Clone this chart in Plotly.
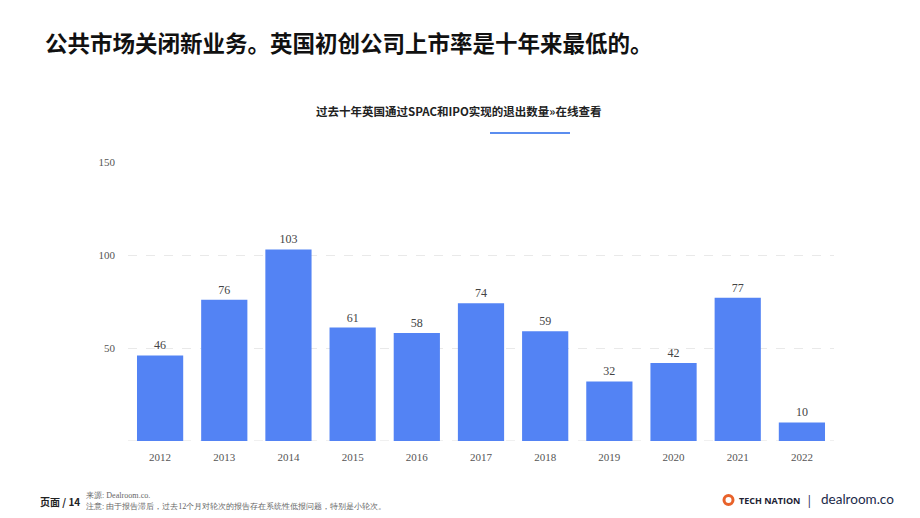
import plotly.graph_objects as go

years = ["2012", "2013", "2014", "2015", "2016", "2017", "2018", "2019", "2020", "2021", "2022"]
exits = [46, 76, 103, 61, 58, 74, 59, 32, 42, 77, 10]
y_ticks = [0, 50, 100, 150]
y_tick_labels = ["", "50", "100", "150"]

title_text = "公共市场关闭新业务。英国初创公司上市率是十年来最低的。"
subtitle_text = "过去十年英国通过SPAC和IPO实现的退出数量»在线查看"
page_text = "页面 / 14"
source_text = "来源: Dealroom.co.<br>注意: 由于报告滞后，过去12个月对轮次的报告存在系统性低报问题，特别是小轮次。"

W, H = 920, 518
L, R, T, B = 128, 86, 162, 77
PW, PH = W - L - R, H - T - B


def px(x):
    return (x - L) / PW


def py(y):
    return (H - y - B) / PH


fig = go.Figure()
fig.add_trace(go.Bar(
    x=years, y=exits,
    marker=dict(color="#5383F4", line=dict(width=0)),
    text=[str(v) for v in exits],
    textposition="outside",
    textfont=dict(family="Liberation Serif", size=12, color="#444444"),
    cliponaxis=False,
    width=0.72,
))

fig.update_layout(
    width=W, height=H,
    margin=dict(l=L, r=R, t=T, b=B),
    paper_bgcolor="white", plot_bgcolor="white",
    showlegend=False,
    font=dict(family="Liberation Serif", color="#555555"),
    xaxis=dict(
        showgrid=False, showline=False, zeroline=False,
        tickfont=dict(family="Liberation Serif", size=11, color="#555555"),
        ticks="", ticklabelstandoff=8,
    ),
    yaxis=dict(
        range=[0, 150],
        tickvals=y_ticks, ticktext=y_tick_labels,
        showgrid=True, gridcolor="#e9e9e9", griddash="dash", gridwidth=1,
        zeroline=False, showline=False, ticks="",
        tickfont=dict(family="Liberation Serif", size=11, color="#555555"),
        ticklabelstandoff=12,
    ),
    shapes=[
        dict(type="line", xref="paper", yref="y", x0=0, x1=1, y0=0, y1=0, layer="below",
             line=dict(color="#e0e0e0", width=1, dash="dash")),
        dict(type="line", xref="paper", yref="paper",
             x0=px(490), x1=px(570), y0=py(133), y1=py(133),
             line=dict(color="#5B8DEF", width=2)),
        dict(type="circle", xref="paper", yref="paper",
             x0=px(724), x1=px(733), y0=py(504.5), y1=py(495.5),
             fillcolor="white", line=dict(color="#E8622A", width=3)),
    ],
    annotations=[
        dict(text="<b>" + title_text + "</b>", xref="paper", yref="paper",
             x=px(43), y=py(42), xanchor="left", yanchor="middle",
             showarrow=False,
             font=dict(family="Noto Sans CJK SC", size=22.5, color="#111111")),
        dict(text="<b>" + subtitle_text + "</b>", xref="paper", yref="paper",
             x=px(458), y=py(111), xanchor="center", yanchor="middle",
             showarrow=False,
             font=dict(family="Noto Sans CJK SC", size=11.5, color="#222222")),
        dict(text="<b>" + page_text + "</b>", xref="paper", yref="paper",
             x=px(38), y=py(501), xanchor="left", yanchor="middle",
             showarrow=False,
             font=dict(family="Noto Sans CJK SC", size=10, color="#222222")),
        dict(text=source_text, xref="paper", yref="paper",
             x=px(84), y=py(501), xanchor="left", yanchor="middle",
             showarrow=False, align="left",
             font=dict(family="Liberation Serif", size=8.1, color="#666666")),
        dict(text="<b>TECH NATION</b>", xref="paper", yref="paper",
             x=px(737), y=py(500), xanchor="left", yanchor="middle",
             showarrow=False,
             font=dict(family="Open Sans", size=9, color="#222233")),
        dict(text="|", xref="paper", yref="paper",
             x=px(809), y=py(500), xanchor="center", yanchor="middle",
             showarrow=False,
             font=dict(family="Open Sans", size=12, color="#1b2a4a")),
        dict(text="dealroom.co", xref="paper", yref="paper",
             x=px(819), y=py(499), xanchor="left", yanchor="middle",
             showarrow=False,
             font=dict(family="Lato", size=13.5, color="#1b2a4a")),
    ],
)

fig.write_html("out.html")
